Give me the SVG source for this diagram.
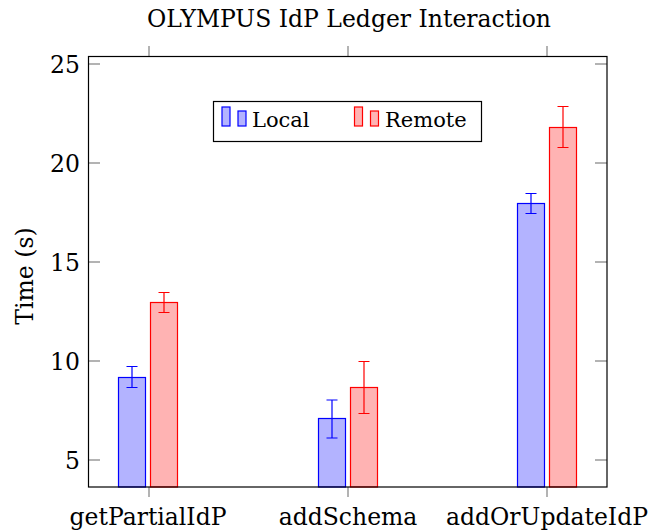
<svg xmlns="http://www.w3.org/2000/svg" width="667" height="532" viewBox="0 0 667 532">
<style>
text{font-family:"DejaVu Serif","Liberation Serif",serif;fill:#000}
.t{font-size:23.5px}
.lg{font-size:21px}
.tick{stroke:#808080;stroke-width:1.2}
.loc{fill:#b3b3ff;stroke:#0000ff;stroke-width:1.2}
.rem{fill:#ffb3b3;stroke:#ff0000;stroke-width:1.2}
.el{stroke:#0000ff;stroke-width:1.2;fill:none}
.er{stroke:#ff0000;stroke-width:1.2;fill:none}
</style>
<rect width="667" height="532" fill="#fff"/>
<text x="349" y="27" text-anchor="middle" class="t">OLYMPUS IdP Ledger Interaction</text>
<g id="axis">
<g class="tick">
<line x1="88" y1="460" x2="100" y2="460"/><line x1="595" y1="460" x2="607" y2="460"/>
<line x1="88" y1="361" x2="100" y2="361"/><line x1="595" y1="361" x2="607" y2="361"/>
<line x1="88" y1="262" x2="100" y2="262"/><line x1="595" y1="262" x2="607" y2="262"/>
<line x1="88" y1="163" x2="100" y2="163"/><line x1="595" y1="163" x2="607" y2="163"/>
<line x1="88" y1="64" x2="100" y2="64"/><line x1="595" y1="64" x2="607" y2="64"/>
<line x1="149" y1="487" x2="149" y2="497"/><line x1="149" y1="46" x2="149" y2="56"/>
<line x1="348" y1="487" x2="348" y2="497"/><line x1="348" y1="46" x2="348" y2="56"/>
<line x1="547" y1="487" x2="547" y2="497"/><line x1="547" y1="46" x2="547" y2="56"/>
</g>
<g class="t" text-anchor="end">
<text x="80" y="469">5</text>
<text x="80" y="370">10</text>
<text x="80" y="271">15</text>
<text x="80" y="172">20</text>
<text x="80" y="73">25</text>
</g>
<g class="t" text-anchor="middle">
<text x="148" y="525">getPartialIdP</text>
<text x="348" y="525">addSchema</text>
<text x="547" y="525">addOrUpdateIdP</text>
</g>
<text class="t" text-anchor="middle" transform="translate(33 276) rotate(-90)">Time (s)</text>
</g>
<g id="bars">
<rect class="loc" x="118.5" y="377.5" width="27" height="109.5"/>
<rect class="rem" x="150.5" y="302.5" width="27" height="184.5"/>
<rect class="loc" x="318.5" y="418.5" width="27" height="68.5"/>
<rect class="rem" x="350.5" y="387.5" width="27" height="99.5"/>
<rect class="loc" x="517.5" y="203.5" width="27" height="283.5"/>
<rect class="rem" x="549.5" y="127.5" width="27" height="359.5"/>
</g>
<g id="errorbars">
<path class="el" d="M132 366.5V387.5M126.5 366.5H137.5M126.5 387.5H137.5"/>
<path class="er" d="M164 292.5V312.5M158.5 292.5H169.5M158.5 312.5H169.5"/>
<path class="el" d="M332 400V438M326.5 400H337.5M326.5 438H337.5"/>
<path class="er" d="M364 361.5V413.5M358.5 361.5H369.5M358.5 413.5H369.5"/>
<path class="el" d="M531 193.5V213.5M525.5 193.5H536.5M525.5 213.5H536.5"/>
<path class="er" d="M563 106.5V147.5M557.5 106.5H568.5M557.5 147.5H568.5"/>
</g>
<rect id="frame" x="88.5" y="56.5" width="518.5" height="430.5" fill="none" stroke="#000" stroke-width="1.2"/>
<g id="legend">
<rect x="213.5" y="101.5" width="268" height="40" fill="#fff" stroke="#000" stroke-width="1.2"/>
<rect class="loc" x="222" y="107" width="8" height="19"/>
<rect class="loc" x="238" y="111" width="8" height="15"/>
<text x="252" y="127" class="lg">Local</text>
<rect class="rem" x="354.5" y="107" width="8" height="19"/>
<rect class="rem" x="370.5" y="111" width="8" height="15"/>
<text x="385" y="127" class="lg">Remote</text>
</g>
</svg>
